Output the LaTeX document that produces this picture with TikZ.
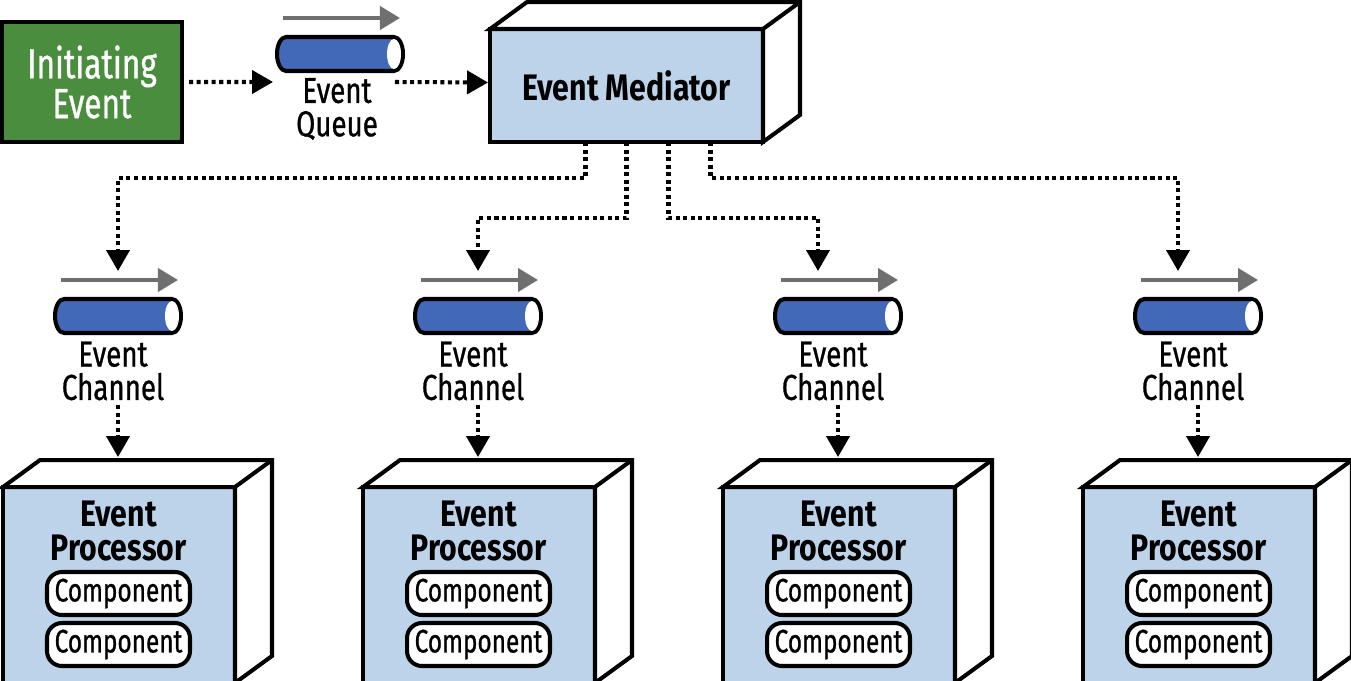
\documentclass[tikz,border=0pt]{standalone}
\usepackage{fontspec}
\setmainfont{Fira Sans}[FakeStretch=0.75, UprightFeatures={FakeBold=0.8}, BoldFeatures={FakeStretch=0.82}]
\usetikzlibrary{calc,arrows.meta}
\definecolor{initgreen}{HTML}{4B8D3F}
\definecolor{crateblue}{HTML}{BDD3EA}
\definecolor{tubeblue}{HTML}{4268B8}
\definecolor{tubegray}{HTML}{6F6F6F}
\tikzset{
	flow/.style={line width=2.3pt, dash pattern=on 2.3pt off 2pt, -{Triangle[length=0.42cm,width=0.46cm]}},
	trigger/.style={draw, line width=2.3pt, fill=initgreen, text=white, minimum width=3.6cm, minimum height=2.4cm, align=center, inner sep=0pt, font=\fontsize{24}{21.5}\selectfont},
	crate/.style={draw, line width=2.3pt, fill=crateblue, outer sep=0pt, inner sep=0pt},
	proc/.style={minimum width=4.64cm, minimum height=3.92cm},
	tubenode/.style={minimum width=2.52cm, minimum height=0.68cm, inner sep=0pt, outer sep=0pt},
	tubelabel/.style={align=center, inner sep=0pt, font=\addfontfeatures{FakeStretch=0.77}\fontsize{20.5}{19}\selectfont},
	proctitle/.style={align=center, inner sep=0pt, font=\bfseries\fontsize{21}{19}\selectfont},
	comp/.style={draw, line width=2.3pt, fill=white, rounded corners=0.3cm, minimum width=2.86cm, minimum height=0.86cm, inner sep=0pt, font=\fontsize{18.5}{18}\selectfont}
}
% top and side face of a box node
\def\crateback#1{%
	\draw[line width=2.3pt, fill=white] (#1.north west) -- ++(37,-27) -- ($(#1.north east)+(37,-27)$) -- ($(#1.south east)+(37,-27)$) -- (#1.south east) -- (#1.north east) -- cycle;
	\draw[line width=2.3pt] (#1.north east) -- ++(37,-27);
}
% pipe drawn round a tube node
\def\tube#1{%
	\draw[line width=2.3pt, tubegray, -{Triangle[length=0.4cm,width=0.46cm]}] ($(#1.north west)+(6,-19)$) -- ($(#1.north east)+(-3,-19)$);
	\draw[line width=2.3pt, fill=tubeblue] ($(#1.north west)+(9,0)$) -- ($(#1.north east)+(-9,0)$) arc[start angle=90, end angle=-90, x radius=0.18cm, y radius=0.34cm] -- ($(#1.south west)+(9,0)$) arc[start angle=270, end angle=90, x radius=0.18cm, y radius=0.34cm] -- cycle;
	\fill[white] ($(#1.east)+(-9,0)$) ellipse[x radius=0.18cm-1.15pt, y radius=0.34cm-1.15pt];
}

\begin{document}
\begin{tikzpicture}[x=0.02cm, y=-0.02cm]
	%%%%% START %%%%%
	\useasboundingbox (0,0) rectangle (1351,680);
	\fill[white] (0,0) rectangle (1351,680);

	\node[trigger] (init) at (92,82) {Initiating\\Event};

	\node[tubenode] (queue) at (340,54) {};
	\tube{queue}
	\node[tubelabel] (queuel) at (337,109) {Event\\Queue};

	\node[crate, minimum width=5.46cm, minimum height=2.26cm, font=\bfseries\fontsize{21}{21}\selectfont] (med) at (626.5,85.5) {Event Mediator};
	\crateback{med}

	\draw[flow] ($(init.east)+(5,0)$) -- ($(queue.south west)+(-4,11)$);
	\draw[flow] ($(queue.south east)+(-8,11)$) -- ($(med.west)+(-2,-3)$);

	% channel 1
	\node[tubenode] (ch1) at (118,316) {};
	\tube{ch1}
	\node[tubelabel] (ch1l) at (113,371) {Event\\Channel};
	\node[crate, proc] (p1) at (119,585) {};
	\crateback{p1}
	\node[proctitle] (p1l) at (118.5,531) {Event\\Processor};
	\node[comp] (p1a) at (118.5,593.5) {Component};
	\node[comp] (p1b) at (118.5,644.5) {Component};
	\draw[flow] ($(med.south)+(-41,0)$) -- ++(0,36) -| ($(ch1.north)+(0,-28)$);
	\draw[flow] ($(ch1.south)+(0,72)$) -- ($(p1.north)+(-1,-30)$);

	% channel 2
	\node[tubenode] (ch2) at (478,316) {};
	\tube{ch2}
	\node[tubelabel] (ch2l) at (473,371) {Event\\Channel};
	\node[crate, proc] (p2) at (479,585) {};
	\crateback{p2}
	\node[proctitle] (p2l) at (478.5,531) {Event\\Processor};
	\node[comp] (p2a) at (478.5,593.5) {Component};
	\node[comp] (p2b) at (478.5,644.5) {Component};
	\draw[flow] (med.south) -- ++(0,76) -| ($(ch2.north)+(0,-28)$);
	\draw[flow] ($(ch2.south)+(0,72)$) -- ($(p2.north)+(-1,-30)$);

	% channel 3
	\node[tubenode] (ch3) at (838,316) {};
	\tube{ch3}
	\node[tubelabel] (ch3l) at (833,371) {Event\\Channel};
	\node[crate, proc] (p3) at (839,585) {};
	\crateback{p3}
	\node[proctitle] (p3l) at (838.5,531) {Event\\Processor};
	\node[comp] (p3a) at (838.5,593.5) {Component};
	\node[comp] (p3b) at (838.5,644.5) {Component};
	\draw[flow] ($(med.south)+(42,0)$) -- ++(0,76) -| ($(ch3.north)+(-20,-28)$);
	\draw[flow] ($(ch3.south)+(0,72)$) -- ($(p3.north)+(-1,-30)$);

	% channel 4
	\node[tubenode] (ch4) at (1198,316) {};
	\tube{ch4}
	\node[tubelabel] (ch4l) at (1193,371) {Event\\Channel};
	\node[crate, proc] (p4) at (1199,585) {};
	\crateback{p4}
	\node[proctitle] (p4l) at (1198.5,531) {Event\\Processor};
	\node[comp] (p4a) at (1198.5,593.5) {Component};
	\node[comp] (p4b) at (1198.5,644.5) {Component};
	\draw[flow] ($(med.south)+(84,0)$) -- ++(0,36) -| ($(ch4.north)+(-20,-28)$);
	\draw[flow] ($(ch4.south)+(0,72)$) -- ($(p4.north)+(-1,-30)$);

	%%%%% END %%%%%
\end{tikzpicture}
\end{document}
